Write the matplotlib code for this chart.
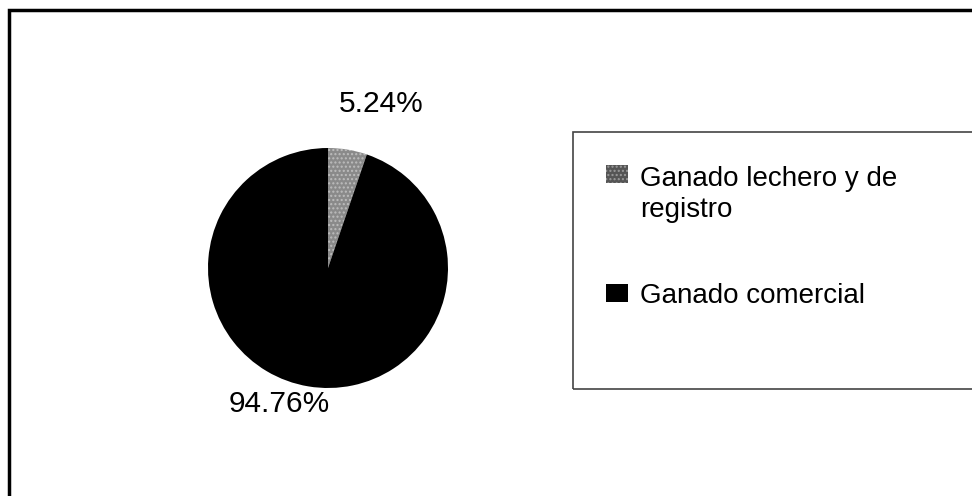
import matplotlib.pyplot as plt
from matplotlib.patches import Rectangle

plt.rcParams['font.family'] = ['Liberation Sans', 'DejaVu Sans']

# Share of cattle by type (%)
categorias = ["Ganado lechero y de\nregistro", "Ganado comercial"]
porcentajes = [5.24, 94.76]
colores = ["#8a8a8a", "#000000"]

W, H = 972, 496
fig = plt.figure(figsize=(W / 100, H / 100), dpi=100)

# outer chart border (only top and left edges fall inside the image)
fig.add_artist(Rectangle((9 / W, -0.1), 1.2, 1 - 10 / H + 0.1, transform=fig.transFigure,
                         fill=False, edgecolor="black", linewidth=2.5))

cx, cy, r = 328, 268, 120
ax = fig.add_axes([(cx - r) / W, (H - cy - r) / H, 2 * r / W, 2 * r / H])
wedges, _, autotexts = ax.pie(porcentajes, colors=colores, startangle=90, counterclock=False,
                              autopct="%.2f%%", radius=1,
                              wedgeprops=dict(linewidth=0))
wedges[0].set_hatch("....")
wedges[0].set_edgecolor("#bdbdbd")
ax.set_xlim(-1, 1)
ax.set_ylim(-1, 1)
ax.set_aspect("equal")

label_pos = [(0.44, 1.37), (-0.41, -1.13)]
for t, (x, y) in zip(autotexts, label_pos):
    t.set_position((x, y))
    t.set_fontsize(21.5)
    t.set_color("black")
    t.set_ha("center")
    t.set_va("center")
    t.set_clip_on(False)

# legend frame runs off the right edge
fig.add_artist(Rectangle((573 / W, (H - 389) / H), 0.6, (389 - 132) / H,
                         transform=fig.transFigure, fill=False,
                         edgecolor="#444444", linewidth=1.2))

leg = fig.legend(wedges, categorias, loc="upper left",
                 bbox_to_anchor=(592 / W, 1 - 152 / H), frameon=False,
                 fontsize=20, handlelength=0.78, handleheight=0.62,
                 handletextpad=0.45, labelspacing=2.17, borderpad=0)
for t in leg.get_texts():
    t.set_linespacing(1.25)
for h in leg.legend_handles:
    h.set_linewidth(0)
# first key sits beside the first line of its two-line label
leg.legend_handles[0].set_y(leg.legend_handles[0].get_y() + 15)
leg.legend_handles[0].set_facecolor("#555555")
leg.legend_handles[0].set_hatch("....")
leg.legend_handles[0].set_edgecolor("#9a9a9a")

fig.savefig("out.png", dpi=100)
